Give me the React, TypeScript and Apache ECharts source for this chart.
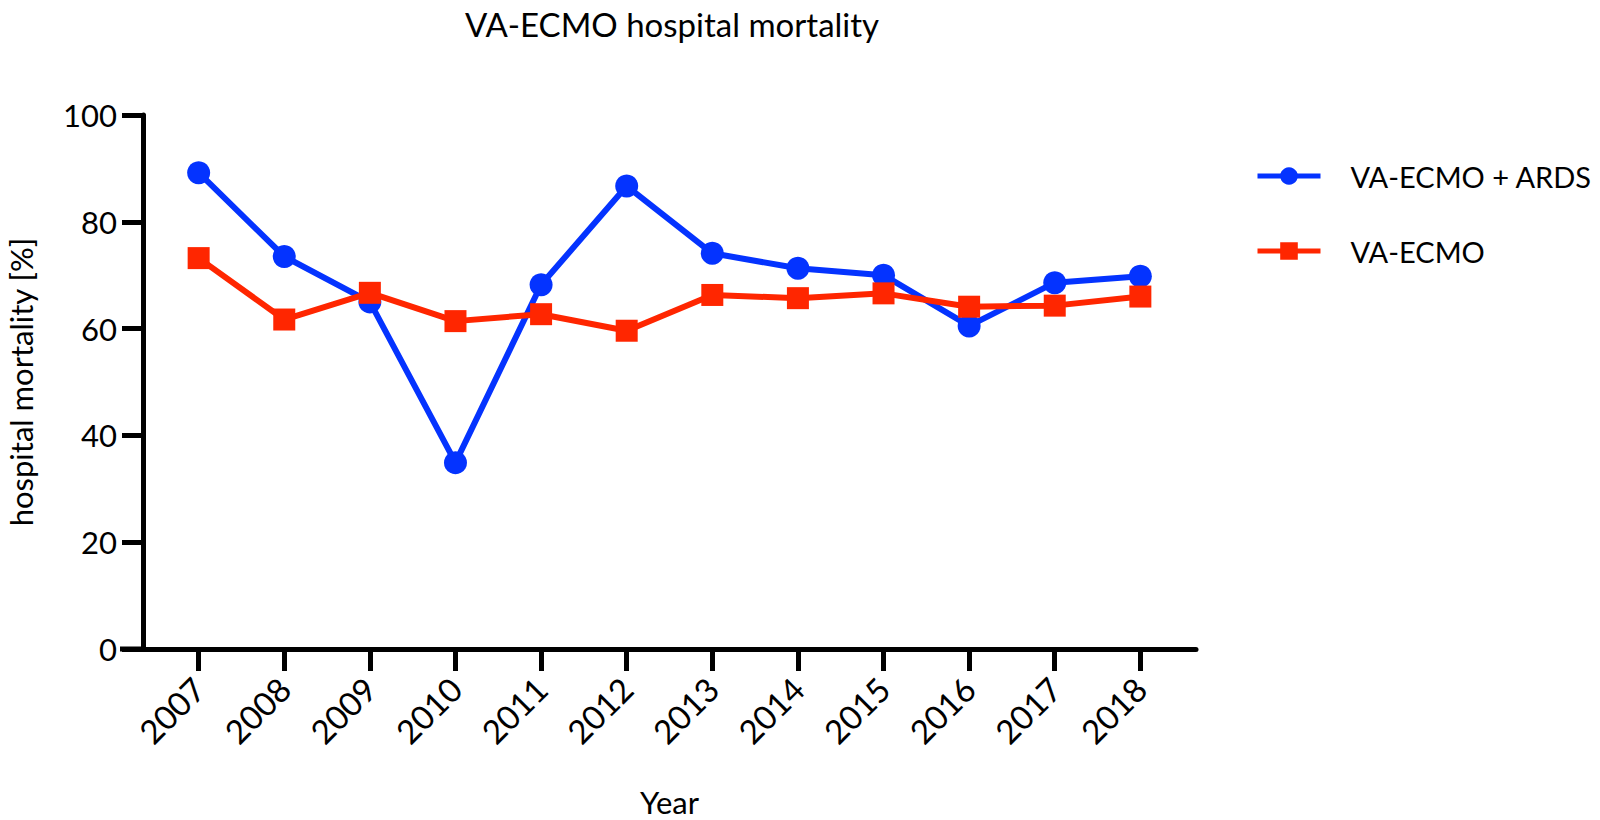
import React, { useEffect, useRef } from "react";
import * as echarts from "echarts";

const years = [2007, 2008, 2009, 2010, 2011, 2012, 2013, 2014, 2015, 2016, 2017, 2018];
const ardsValues = [89.2, 73.5, 65.0, 34.9, 68.2, 86.7, 74.1, 71.3, 70.0, 60.5, 68.6, 69.8];
const vaValues = [73.2, 61.7, 66.7, 61.4, 62.7, 59.6, 66.3, 65.7, 66.6, 64.1, 64.3, 66.0];
const yTicks = [0, 20, 40, 60, 80, 100];

const FONT = "Lato";
const BLUE = "#0433FF";
const RED = "#FF2600";

export default function App() {
  const ref = useRef<HTMLDivElement>(null);
  useEffect(() => {
    if (!ref.current) return;
    const chart = echarts.init(ref.current, null, { renderer: "svg" });
    chart.setOption({
      animation: false,
      backgroundColor: "#ffffff",
      title: {
        text: "VA-ECMO hospital mortality",
        left: 667,
        top: 2,
        textAlign: "center",
        textStyle: { fontFamily: FONT, fontSize: 33, fontWeight: "normal", color: "#000" },
      },
      legend: {
        orient: "vertical",
        left: 1250,
        top: 155,
        itemWidth: 63,
        itemHeight: 22,
        itemGap: 43,
        lineStyle: { width: 5 },
        textStyle: {
          fontFamily: FONT,
          fontSize: 29,
          lineHeight: 32,
          color: "#000",
          padding: [0, 0, 0, 25],
        },
        data: ["VA-ECMO + ARDS", "VA-ECMO"],
      },
      grid: {
        left: 143,
        right: 404,
        top: 115,
        bottom: 171,
        containLabel: false,
        outerBoundsMode: "none",
      },
      xAxis: {
        type: "value",
        min: 2006.35,
        max: 2018.65,
        name: "Year",
        nameLocation: "middle",
        nameGap: 137,
        nameTextStyle: { fontFamily: FONT, fontSize: 31, color: "#000" },
        splitLine: { show: false },
        axisLine: { show: true, lineStyle: { color: "#000", width: 5 } },
        axisTick: {
          show: true,
          length: 22,
          lineStyle: { color: "#000", width: 5 },
          customValues: years,
        },
        axisLabel: {
          rotate: 45,
          margin: 34,
          fontFamily: FONT,
          fontSize: 33,
          color: "#000",
          customValues: years,
          formatter: (v: number) => String(v),
        },
      },
      yAxis: {
        type: "value",
        min: 0,
        max: 100,
        interval: 20,
        name: "hospital mortality [%]",
        nameLocation: "middle",
        nameGap: 107,
        nameRotate: 90,
        nameTextStyle: { fontFamily: FONT, fontSize: 31, color: "#000" },
        splitLine: { show: false },
        axisLine: { show: true, lineStyle: { color: "#000", width: 5 } },
        axisTick: { show: true, length: 21, lineStyle: { color: "#000", width: 5 } },
        axisLabel: {
          margin: 26,
          fontFamily: FONT,
          fontSize: 31,
          color: "#000",
          customValues: yTicks,
        },
      },
      graphic: [
        {
          type: "line",
          shape: { x1: 120, y1: 649, x2: 145, y2: 649 },
          style: { stroke: "#000", lineWidth: 5 },
        },
      ],
      series: [
        {
          name: "VA-ECMO + ARDS",
          type: "line",
          data: years.map((y, i) => [y, ardsValues[i]]),
          symbol: "circle",
          symbolSize: 23,
          z: 2,
          itemStyle: { color: BLUE },
          lineStyle: { color: BLUE, width: 6 },
        },
        {
          name: "VA-ECMO",
          type: "line",
          data: years.map((y, i) => [y, vaValues[i]]),
          symbol: "rect",
          symbolSize: 22,
          z: 3,
          itemStyle: { color: RED },
          lineStyle: { color: RED, width: 6 },
        },
      ],
    });
    return () => chart.dispose();
  }, []);
  return <div ref={ref} style={{ width: 1600, height: 820, position: "absolute", left: 0, top: 0 }} />;
}
